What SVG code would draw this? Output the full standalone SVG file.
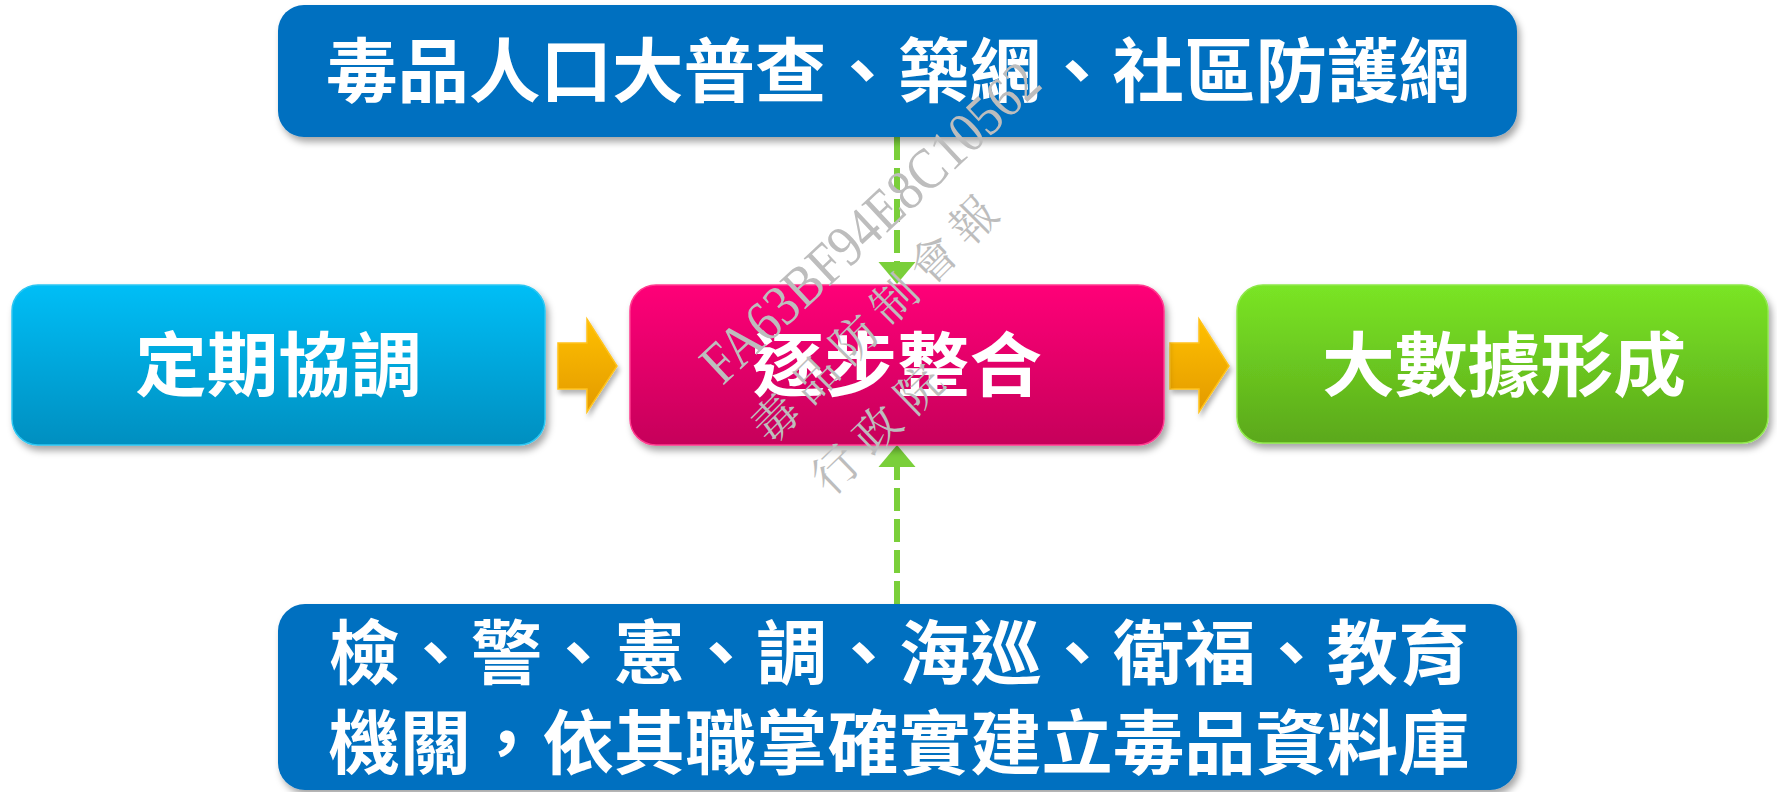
<svg xmlns="http://www.w3.org/2000/svg" width="1777" height="792" viewBox="0 0 1777 792">
<defs>
<style>
.box{filter:url(#sh)}
.t{font-family:"Noto Sans CJK TC","Noto Sans CJK SC",sans-serif;font-weight:700;fill:#fff;text-anchor:middle;font-size:70px}
.dash{fill:none;stroke:#7ACF3A;stroke-width:6;stroke-dasharray:23 8}
.blk{stroke:#FFC21A;stroke-width:1.5;fill:url(#gO);filter:url(#sh2)}
.wm{font-family:"Liberation Serif","Noto Serif CJK TC","Noto Sans CJK TC",serif;fill:#BDBDBD;text-anchor:middle;dominant-baseline:central}
</style>
<filter id="sh" x="-10%" y="-10%" width="120%" height="130%">
<feDropShadow dx="3" dy="5" stdDeviation="3.5" flood-color="#000" flood-opacity="0.35"/>
</filter>
<filter id="sh2" x="-20%" y="-20%" width="140%" height="150%">
<feDropShadow dx="2" dy="4" stdDeviation="2.5" flood-color="#000" flood-opacity="0.3"/>
</filter>
<linearGradient id="gC" x1="0" y1="0" x2="0" y2="1"><stop offset="0" stop-color="#00BEF6"/><stop offset="1" stop-color="#008FC0"/></linearGradient>
<linearGradient id="gP" x1="0" y1="0" x2="0" y2="1"><stop offset="0" stop-color="#FF0078"/><stop offset="1" stop-color="#C6005A"/></linearGradient>
<linearGradient id="gG" x1="0" y1="0" x2="0" y2="1"><stop offset="0" stop-color="#7AE525"/><stop offset="1" stop-color="#5BA81B"/></linearGradient>
<linearGradient id="gO" x1="0" y1="0" x2="0" y2="1"><stop offset="0" stop-color="#FFC000"/><stop offset="1" stop-color="#E39A00"/></linearGradient>
<marker id="ah" markerUnits="userSpaceOnUse" viewBox="0 -20 24 40" refX="0" refY="0" markerWidth="24" markerHeight="40" orient="auto">
<path d="M0,-18.5 L22,0 L0,18.5 Z" fill="#7ACF3A"/>
</marker>
</defs>
<rect width="1777" height="792" fill="#fff"/>

<g id="connectors">
<path class="dash" d="M897,137 V262" marker-end="url(#ah)"/>
<path class="dash" d="M897,604 V467" marker-end="url(#ah)"/>
<path class="blk" d="M558,343 H587 V319 L617,366 L587,412 V389 H558 Z"/>
<path class="blk" d="M1170,343 H1199 V319 L1229,366 L1199,412 V389 H1170 Z"/>
</g>

<g id="node-top">
<rect class="box" x="278" y="5" width="1239" height="132" rx="26" fill="#0070C0"/>
<text class="t" x="898" y="97" textLength="1144" lengthAdjust="spacingAndGlyphs">毒品人口大普查、築網、社區防護網</text>
</g>

<g id="node-left">
<rect class="box" x="12" y="285" width="533" height="160" rx="26" fill="url(#gC)" stroke="#2CC6F2" stroke-width="1.5"/>
<text class="t" x="278.5" y="391" textLength="287" lengthAdjust="spacingAndGlyphs">定期協調</text>
</g>

<g id="node-center">
<rect class="box" x="630" y="285" width="534" height="160" rx="26" fill="url(#gP)" stroke="#FF3A8F" stroke-width="1.5"/>
<text class="t" x="897" y="391" textLength="290" lengthAdjust="spacingAndGlyphs">逐步整合</text>
</g>

<g id="node-right">
<rect class="box" x="1237" y="285" width="531" height="158" rx="26" fill="url(#gG)" stroke="#8EE84A" stroke-width="1.5"/>
<text class="t" x="1504" y="391" textLength="364" lengthAdjust="spacingAndGlyphs">大數據形成</text>
</g>

<g id="node-bottom">
<rect class="box" x="278" y="604" width="1239" height="186" rx="27" fill="#0070C0"/>
<text class="t"><tspan x="899" y="679" textLength="1141" lengthAdjust="spacingAndGlyphs">檢、警、憲、調、海巡、衛福、教育</tspan><tspan x="899" y="769" textLength="1141" lengthAdjust="spacingAndGlyphs">機關，依其職掌確實建立毒品資料庫</tspan></text>
</g>

<g id="watermark">
<text class="wm" font-size="58" transform="translate(870,222) rotate(-43)" textLength="440" lengthAdjust="spacingAndGlyphs">FA63BF94E8C10562</text>
<text class="wm" font-size="46" transform="translate(875,320) rotate(-45)" textLength="326" lengthAdjust="spacing">毒品防制會報</text>
<text class="wm" font-size="46" transform="translate(878,430) rotate(-44)" textLength="162" lengthAdjust="spacing">行政院</text>
</g>
</svg>
